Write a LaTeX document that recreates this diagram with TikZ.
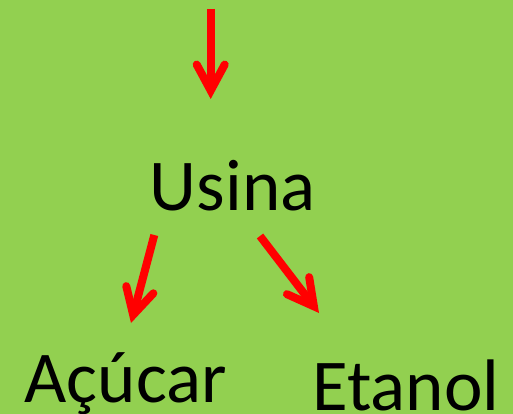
\documentclass[tikz,border=0pt]{standalone}
\usepackage{fontspec}
\setmainfont{Carlito}
\usetikzlibrary{arrows.meta}
\definecolor{bggreen}{HTML}{92D050}
\definecolor{arrred}{HTML}{FF0000}
\tikzset{
  lbl/.style={anchor=base, inner sep=0pt, text=black, font=\fontsize{73}{78}\selectfont},
  arr/.style={draw=arrred, line width=8pt,
    -{Straight Barb[length=26pt, width=28pt, line cap=round, line join=miter]}}
}
\begin{document}
\begin{tikzpicture}[x=1pt, y=-1pt]
  \fill[bggreen] (0,0) rectangle (513,414);
  \useasboundingbox (0,0) rectangle (513,414);
  \node[lbl] (usina) at (232.7,210) {Usina};
  \node[lbl] (acucar) at (125.7,402.7) {Açúcar};
  \node[lbl] (etanol) at (405.8,410) {Etanol};
  \coordinate (s0) at (210.7,9);
  \coordinate (t0) at (210.7,99);
  \coordinate (s1) at (154.3,235);
  \coordinate (t1) at (131,323);
  \coordinate (s2) at (260,236);
  \coordinate (t2) at (319,313);
  \draw[arr] (s0) -- (t0);
  \draw[arr] (s1) -- (t1);
  \draw[arr] (s2) -- (t2);
\end{tikzpicture}
\end{document}
